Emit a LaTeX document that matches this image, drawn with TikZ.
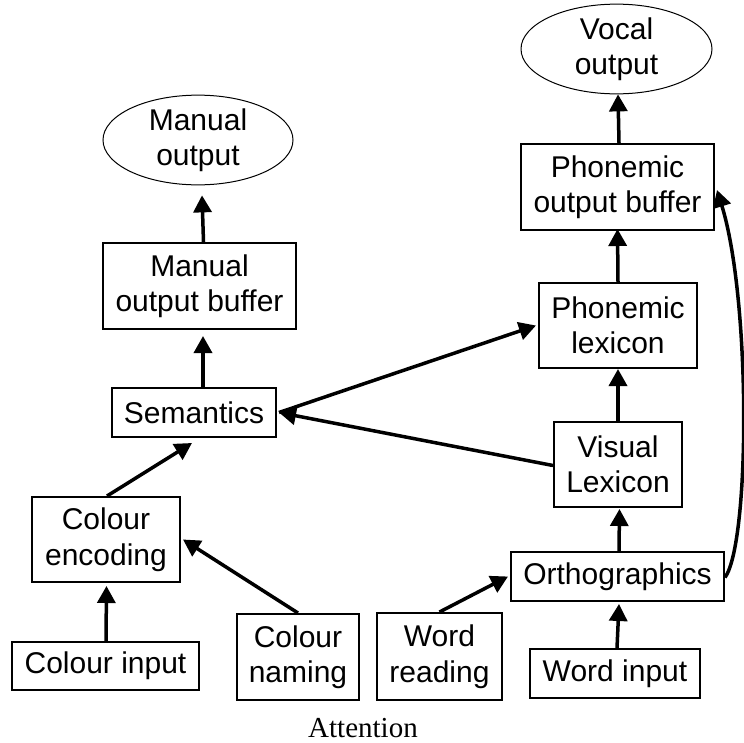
\documentclass[tikz,border=0pt]{standalone}
\usepackage{fontspec}
\newfontfamily\labelfont{Liberation Sans}
\newfontfamily\notefont{Liberation Serif}
\usetikzlibrary{arrows.meta,shapes.geometric}
\tikzset{
  lbl/.style={font=\labelfont\fontsize{30}{35.5}\selectfont, align=center, inner sep=0pt},
  box/.style={lbl, draw, line width=2pt, rectangle},
  oval/.style={lbl, draw, line width=1pt, ellipse},
  conn/.style={line width=3.5pt, -{Triangle[length=17pt,width=18pt]}},
}
\begin{document}
\begin{tikzpicture}[x=1pt,y=-1pt]
\useasboundingbox (0,0) rectangle (744,742);

% colour pathway
\node[oval, minimum width=190pt, minimum height=81pt] (manout) at (198,140) {Manual\\output};
\node[box, minimum width=193pt, minimum height=86pt] (manbuf) at (199.5,286) {Manual\\output buffer};
\node[box, minimum width=164pt, minimum height=49pt] (sem) at (194,412.5) {Semantics};
\node[box, minimum width=148pt, minimum height=85pt] (colenc) at (106,539.5) {Colour\\encoding};
\node[box, minimum width=187pt, minimum height=48pt] (colin) at (105.5,666) {Colour input};
\node[box, minimum width=122pt, minimum height=86pt] (colnam) at (298,657) {Colour\\naming};

% word pathway
\node[oval, minimum width=191pt, minimum height=82pt] (vocout) at (616.5,49) {Vocal\\output};
\node[box, minimum width=193pt, minimum height=86pt] (phonbuf) at (617.5,187) {Phonemic\\output buffer};
\node[box, minimum width=158pt, minimum height=85pt] (phonlex) at (618,325.5) {Phonemic\\lexicon};
\node[box, minimum width=128pt, minimum height=85pt] (vislex) at (618,464.5) {Visual\\Lexicon};
\node[box, minimum width=213pt, minimum height=49pt] (ortho) at (617.5,576.5) {Orthographics};
\node[box, minimum width=125pt, minimum height=87pt] (wordread) at (439.5,656.5) {Word\\reading};
\node[box, minimum width=170pt, minimum height=49pt] (wordin) at (615,673.5) {Word input};

\node[font=\notefont\fontsize{29}{34}\selectfont, anchor=base, inner sep=0pt] (attn) at (363,737) {Attention};

% connections
\draw[conn] ([xshift=4pt]manbuf.north) -- ([shift={(4,10)}]manout.south);
\draw[conn] ([xshift=9pt]sem.north) -- ([shift={(3.5,6)}]manbuf.south);
\draw[conn] ([xshift=1pt]colenc.north) -- ([shift={(-2,5)}]sem.south);
\draw[conn] ([xshift=0.5pt]colin.north) -- ([shift={(0.5,3)}]colenc.south);
\draw[conn] (colnam.north) -- ([xshift=2pt]colenc.east);
\draw[conn] ([yshift=-1pt]vislex.west) -- ([xshift=2pt]sem.east);
\draw[conn] ([xshift=2pt]sem.east) -- ([xshift=-2pt]phonlex.west);
\draw[conn] ([xshift=1.5pt]phonbuf.north) -- ([xshift=1.5pt]vocout.south);
\draw[conn] (phonlex.north) -- ([yshift=2pt]phonbuf.south);
\draw[conn] (vislex.north) -- (phonlex.south);
\draw[conn] ([xshift=1.5pt]ortho.north) -- ([shift={(1.5,1)}]vislex.south);
\draw[conn] ([xshift=2pt]wordin.north) -- ([shift={(1.5,2)}]ortho.south);
\draw[conn] (wordread.north) -- ([xshift=-2pt]ortho.west);
\draw[conn] ([yshift=-1pt]ortho.east) .. controls +(25,-35) and +(34,110) .. ([shift={(2,3)}]phonbuf.east);
\end{tikzpicture}
\end{document}
